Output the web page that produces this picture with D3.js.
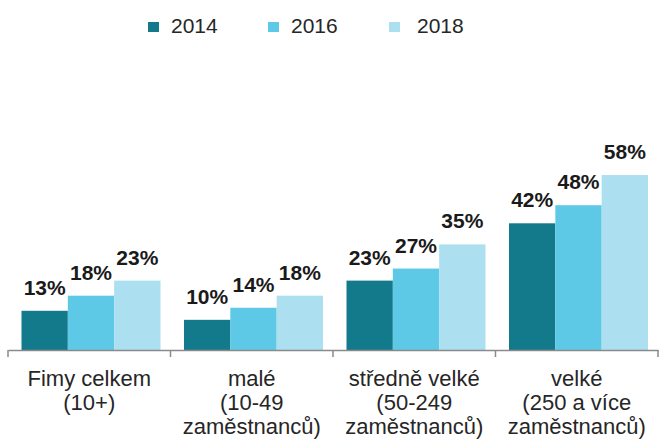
<!DOCTYPE html>
<html>
<head>
<meta charset="utf-8">
<script src="https://cdn.jsdelivr.net/npm/d3@7"></script>
<style>
  body { margin: 0; background: #fff; }
  svg { display: block; font-family: "Liberation Sans", Arial, sans-serif; }
</style>
</head>
<body>
<svg width="659" height="439"></svg>
<script>
// chart data
var categories = [
  ['Fimy celkem', '(10+)'],
  ['malé', '(10-49', 'zaměstnanců)'],
  ['středně velké', '(50-249', 'zaměstnanců)'],
  ['velké', '(250 a více', 'zaměstnanců)']
]
var years = ['2014', '2016', '2018']
var values2014 = [13, 10, 23, 42]
var values2016 = [18, 14, 27, 48]
var values2018 = [23, 18, 35, 58]
var colors = ['#127a8b', '#5dc9e6', '#acdff0']

window.onload = function(){
  var svg = d3.select('svg')
  var series = [values2014, values2016, values2018]

  var x0 = d3.scaleBand().domain(d3.range(categories.length)).range([8, 658])
  var x1 = d3.scaleBand().domain(years).range([13.5, 152.5])
  var y = d3.scaleLinear().domain([0, 60]).range([350, 169])

  // bars
  var groups = svg.selectAll('g.grp')
    .data(categories)
    .enter()
    .append('g')
      .attr('class', 'grp')
      .attr('transform', function(d, i){ return 'translate(' + x0(i) + ',0)' })

  groups.each(function(c, i){
    var g = d3.select(this)
    var vals = years.map(function(yr, k){ return {year: yr, v: series[k][i], k: k} })
    g.selectAll('rect')
      .data(vals)
      .enter()
      .append('rect')
        .attr('x', function(d){ return x1(d.year) })
        .attr('width', x1.bandwidth())
        .attr('y', function(d){ return y(d.v) })
        .attr('height', function(d){ return y(0) - y(d.v) })
        .style('fill', function(d){ return colors[d.k] })
    g.selectAll('text.val')
      .data(vals)
      .enter()
      .append('text')
        .attr('class', 'val')
        .attr('x', function(d){ return x1(d.year) + x1.bandwidth() / 2 })
        .attr('y', function(d){ return y(d.v) - 16 })
        .attr('text-anchor', 'middle')
        .style('font-size', '21px')
        .style('font-weight', 'bold')
        .style('fill', '#1a1a1a')
        .text(function(d){ return d.v + '%' })
  })

  // axis line + ticks
  var axis = d3.axisBottom(x0).tickValues([]).tickSizeOuter(0)
  var ax = svg.append('g').attr('transform', 'translate(0,350)').call(axis)
  ax.select('.domain').attr('stroke', '#8a8a8a').attr('stroke-width', 1.5)
  var bounds = d3.range(categories.length).map(function(i){ return x0(i) }).concat([x0.range()[1]])
  ax.selectAll('line.tk')
    .data(bounds)
    .enter()
    .append('line')
      .attr('class', 'tk')
      .attr('x1', function(d){ return d }).attr('x2', function(d){ return d })
      .attr('y1', 0).attr('y2', 7)
      .attr('stroke', '#8a8a8a').attr('stroke-width', 1.5)

  // category labels
  groups.append('text')
    .attr('x', x0.bandwidth() / 2)
    .attr('text-anchor', 'middle')
    .style('font-size', '22px')
    .style('fill', '#262626')
    .selectAll('tspan')
    .data(function(d){ return d })
    .enter()
    .append('tspan')
      .attr('x', x0.bandwidth() / 2)
      .attr('y', function(d, j){ return 385.5 + j * 24 })
      .text(function(d){ return d })

  // legend
  var legX = [148, 268, 389]
  var leg = svg.selectAll('g.leg')
    .data(years)
    .enter()
    .append('g')
      .attr('class', 'leg')
      .attr('transform', function(d, i){ return 'translate(' + legX[i] + ',0)' })
  leg.append('rect')
    .attr('x', 0).attr('y', 22).attr('width', 11).attr('height', 10)
    .style('fill', function(d, i){ return colors[i] })
  leg.append('text')
    .attr('x', function(d, i){ return i == 2 ? 28 : 23 })
    .attr('y', 32.5)
    .style('font-size', '21px')
    .style('fill', '#262626')
    .text(function(d){ return d })
}
</script>
</body>
</html>
